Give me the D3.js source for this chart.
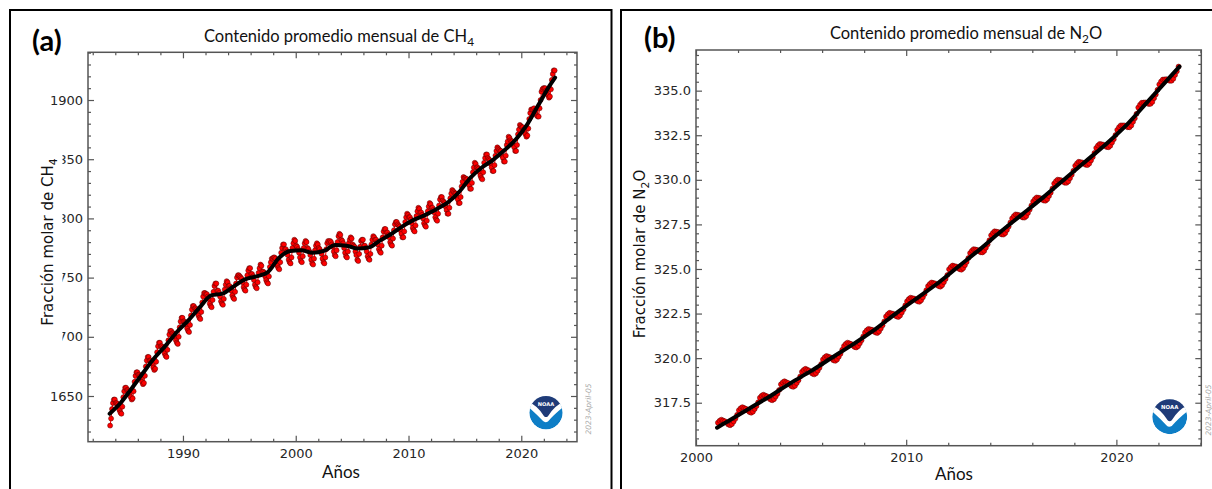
<!DOCTYPE html>
<html>
<head>
    <meta charset="utf-8">
    <style>
        body { margin: 0; background: #fff; }
        svg { display: block; }
        .axis .domain { display: none; }
        .axis .tick line { stroke: #555; stroke-width: 1.2px; }
        .axis .tick text { font-family: "DejaVu Sans", sans-serif; font-size: 13px; fill: #262626; }
    </style>
</head>
<body>
<svg width="1212" height="489"></svg>

<script src="https://cdn.jsdelivr.net/npm/d3@7"></script>
<script>
    // ---- data ----

    // CH4 global monthly mean (ppb), first value = July 1983
    const ch4Start = 1983.5
    const ch4Monthly = [
        1625, 1631, 1639, 1644, 1647, 1647,
        1644, 1644, 1643, 1641, 1638, 1636, 1635, 1641, 1649, 1654, 1657, 1657,
        1655, 1655, 1654, 1652, 1649, 1647, 1648, 1654, 1662, 1667, 1670, 1670,
        1668, 1668, 1667, 1665, 1662, 1660, 1661, 1667, 1675, 1680, 1683, 1683,
        1680, 1680, 1679, 1677, 1674, 1672, 1673, 1679, 1687, 1692, 1695, 1695,
        1692, 1692, 1691, 1689, 1686, 1684, 1683, 1689, 1697, 1702, 1705, 1705,
        1703, 1703, 1702, 1700, 1697, 1695, 1694, 1700, 1708, 1713, 1716, 1716,
        1713, 1713, 1712, 1710, 1707, 1705, 1704, 1710, 1718, 1723, 1726, 1726,
        1724, 1724, 1723, 1721, 1718, 1716, 1715, 1721, 1729, 1734, 1737, 1737,
        1736, 1736, 1734, 1732, 1728, 1726, 1725, 1731, 1738, 1743, 1745, 1745,
        1739, 1739, 1737, 1734, 1730, 1728, 1727, 1732, 1740, 1744, 1747, 1746,
        1743, 1743, 1741, 1739, 1735, 1733, 1732, 1738, 1745, 1750, 1752, 1752,
        1751, 1750, 1749, 1746, 1742, 1740, 1739, 1744, 1752, 1756, 1758, 1758,
        1753, 1753, 1751, 1748, 1744, 1742, 1741, 1746, 1754, 1758, 1761, 1760,
        1755, 1755, 1754, 1751, 1748, 1746, 1745, 1751, 1759, 1763, 1766, 1766,
        1767, 1767, 1766, 1763, 1760, 1758, 1757, 1763, 1771, 1775, 1778, 1778,
        1774, 1774, 1772, 1769, 1765, 1763, 1762, 1767, 1775, 1779, 1782, 1781,
        1777, 1776, 1774, 1771, 1767, 1764, 1763, 1768, 1775, 1779, 1781, 1780,
        1775, 1774, 1772, 1769, 1765, 1762, 1761, 1766, 1773, 1777, 1779, 1778,
        1775, 1774, 1772, 1770, 1766, 1763, 1762, 1767, 1774, 1779, 1781, 1780,
        1781, 1780, 1778, 1776, 1772, 1769, 1768, 1773, 1780, 1785, 1787, 1786,
        1782, 1781, 1779, 1775, 1771, 1768, 1767, 1772, 1779, 1782, 1784, 1783,
        1778, 1777, 1776, 1772, 1769, 1765, 1764, 1770, 1776, 1781, 1782, 1782,
        1777, 1777, 1775, 1772, 1768, 1766, 1765, 1770, 1778, 1782, 1785, 1784,
        1782, 1782, 1780, 1778, 1774, 1772, 1771, 1777, 1784, 1789, 1791, 1791,
        1788, 1788, 1786, 1784, 1780, 1778, 1777, 1783, 1790, 1795, 1797, 1797,
        1795, 1794, 1793, 1790, 1787, 1784, 1784, 1789, 1797, 1801, 1804, 1803,
        1801, 1801, 1799, 1796, 1792, 1790, 1789, 1794, 1802, 1806, 1809, 1808,
        1805, 1805, 1803, 1800, 1796, 1794, 1793, 1798, 1806, 1810, 1813, 1812,
        1809, 1809, 1807, 1805, 1801, 1799, 1798, 1804, 1811, 1816, 1818, 1818,
        1815, 1814, 1813, 1810, 1807, 1804, 1804, 1809, 1817, 1821, 1824, 1823,
        1822, 1821, 1821, 1818, 1816, 1813, 1813, 1818, 1827, 1831, 1835, 1834,
        1834, 1833, 1833, 1830, 1828, 1825, 1825, 1830, 1839, 1843, 1847, 1846,
        1843, 1843, 1842, 1839, 1836, 1834, 1833, 1839, 1847, 1851, 1854, 1854,
        1851, 1850, 1849, 1846, 1843, 1840, 1840, 1845, 1853, 1857, 1860, 1859,
        1858, 1857, 1857, 1853, 1851, 1848, 1848, 1853, 1862, 1865, 1869, 1868,
        1866, 1865, 1865, 1862, 1860, 1857, 1857, 1862, 1871, 1875, 1879, 1878,
        1877, 1877, 1875, 1874, 1871, 1869, 1870, 1876, 1884, 1889, 1892, 1892,
        1892, 1893, 1891, 1890, 1887, 1886, 1886, 1893, 1900, 1907, 1909, 1910,
        1910, 1910, 1908, 1907, 1904, 1902, 1903, 1909, 1917, 1922, 1925, 1925
    ]

    // CH4 deseasonalised trend (black line)
    const ch4TrendYears = [
        1983.5, 1984.5, 1985.5, 1986.5, 1987.5, 1988.5, 1989.5, 1990.5, 1991.5, 1992.5,
        1993.5, 1994.5, 1995.5, 1996.5, 1997.5, 1998.5, 1999.5, 2000.5, 2001.5, 2002.5,
        2003.5, 2004.5, 2005.5, 2006.5, 2007.5, 2008.5, 2009.5, 2010.5, 2011.5, 2012.5,
        2013.5, 2014.5, 2015.5, 2016.5, 2017.5, 2018.5, 2019.5, 2020.5, 2021.5, 2022.5, 2023.0
    ]
    const ch4TrendValues = [
        1635, 1644.5, 1657, 1670, 1682.5, 1693, 1704.5, 1714, 1725, 1735,
        1736.5, 1742.5, 1748.5, 1751, 1754.5, 1766.5, 1772.5, 1773, 1771, 1772.5,
        1777.5, 1777, 1774.5, 1775.5, 1781.5, 1787, 1793.5, 1799, 1803, 1808,
        1813.5, 1822.5, 1834.5, 1843, 1849.5, 1857.5, 1866.5, 1879, 1895.5, 1912, 1919
    ]

    // N2O global monthly mean (ppb), first value = January 2001
    const n2oStart = 2001
    const n2oMonthly = [
        316.38, 316.49, 316.55, 316.50, 316.46, 316.37, 316.28, 316.24, 316.30, 316.45, 316.61, 316.82,
        317.08, 317.19, 317.25, 317.20, 317.16, 317.07, 316.98, 316.94, 317.00, 317.15, 317.31, 317.52,
        317.78, 317.89, 317.95, 317.90, 317.86, 317.77, 317.68, 317.64, 317.70, 317.85, 318.01, 318.22,
        318.53, 318.64, 318.70, 318.65, 318.61, 318.52, 318.43, 318.39, 318.45, 318.60, 318.76, 318.97,
        319.23, 319.34, 319.40, 319.35, 319.31, 319.22, 319.13, 319.09, 319.15, 319.30, 319.46, 319.67,
        319.93, 320.05, 320.12, 320.08, 320.05, 319.97, 319.88, 319.85, 319.92, 320.08, 320.25, 320.47,
        320.68, 320.80, 320.87, 320.83, 320.80, 320.72, 320.63, 320.60, 320.67, 320.83, 321.00, 321.22,
        321.44, 321.56, 321.64, 321.61, 321.59, 321.51, 321.44, 321.41, 321.49, 321.66, 321.84, 322.06,
        322.34, 322.46, 322.54, 322.51, 322.49, 322.41, 322.34, 322.31, 322.39, 322.56, 322.74, 322.96,
        323.19, 323.31, 323.39, 323.36, 323.34, 323.26, 323.19, 323.16, 323.24, 323.41, 323.59, 323.81,
        324.04, 324.16, 324.24, 324.21, 324.19, 324.11, 324.04, 324.01, 324.09, 324.26, 324.44, 324.66,
        324.99, 325.11, 325.19, 325.16, 325.14, 325.06, 324.99, 324.96, 325.04, 325.21, 325.39, 325.61,
        325.89, 326.02, 326.11, 326.09, 326.07, 326.01, 325.94, 325.93, 326.01, 326.19, 326.38, 326.61,
        326.89, 327.02, 327.11, 327.09, 327.07, 327.01, 326.94, 326.93, 327.01, 327.19, 327.38, 327.61,
        327.84, 327.97, 328.06, 328.04, 328.02, 327.96, 327.89, 327.88, 327.96, 328.14, 328.33, 328.56,
        328.79, 328.92, 329.01, 328.99, 328.97, 328.91, 328.84, 328.83, 328.91, 329.09, 329.28, 329.51,
        329.79, 329.92, 330.01, 329.99, 329.97, 329.91, 329.84, 329.83, 329.91, 330.09, 330.28, 330.51,
        330.79, 330.92, 331.01, 330.99, 330.97, 330.91, 330.84, 330.83, 330.91, 331.09, 331.28, 331.51,
        331.79, 331.92, 332.01, 331.99, 331.97, 331.91, 331.84, 331.83, 331.91, 332.09, 332.28, 332.51,
        332.80, 332.95, 333.05, 333.05, 333.05, 333.00, 332.95, 332.95, 333.05, 333.25, 333.45, 333.70,
        334.05, 334.21, 334.32, 334.33, 334.34, 334.30, 334.25, 334.26, 334.37, 334.58, 334.79, 335.05,
        335.35, 335.51, 335.62, 335.63, 335.64, 335.60, 335.55, 335.56, 335.67, 335.88, 336.09, 336.35
    ]

    const n2oTrendYears = [
        2001.0, 2001.5, 2002.5, 2003.5, 2004.5, 2005.5, 2006.5, 2007.5, 2008.5, 2009.5, 2010.5, 2011.5,
        2012.5, 2013.5, 2014.5, 2015.5, 2016.5, 2017.5, 2018.5, 2019.5, 2020.5, 2021.5, 2022.5, 2023.0
    ]
    const n2oTrendValues = [
        316.1, 316.45, 317.15, 317.85, 318.6, 319.3, 320.05, 320.8, 321.6, 322.5, 323.35, 324.2,
        325.15, 326.1, 327.1, 328.05, 329.0, 330.0, 331.0, 332.0, 333.1, 334.4, 335.7, 336.35
    ]

    // tick labels
    const ch4XTicks = [1990, 2000, 2010, 2020]
    const ch4YTicks = [1650, 1700, 1750, 1800, 1850, 1900]
    const n2oXTicks = [2000, 2010, 2020]
    const n2oYTicks = [317.5, 320.0, 322.5, 325.0, 327.5, 330.0, 332.5, 335.0]

    // ---- drawing ----
    let svg = d3.select("svg")

    // text with an optional subscript piece, e.g. CH4 / N2O
    function richText(parent, parts, size, attrs) {
        let t = parent.append("text").style("font-size", size + "px")
        Object.entries(attrs).forEach(([k, v]) => t.attr(k, v))
        let down = false
        parts.forEach(p => {
            let s = t.append("tspan").text(p.text)
            if (p.sub) {
                s.attr("dy", size * 0.28).style("font-size", (size * 0.72) + "px")
                down = true
            } else if (down) {
                s.attr("dy", -size * 0.28)
                down = false
            }
        })
        return t
    }

    function drawLogo(parent, cx, cy, r) {
        let id = "logo" + Math.round(cx)
        let g = parent.append("g").attr("transform", `translate(${cx},${cy}) scale(${r / 17})`)
        g.append("clipPath").attr("id", id).append("circle").attr("r", 17)
        let c = g.append("g").attr("clip-path", `url(#${id})`)
        c.append("circle").attr("r", 17).style("fill", "#0e7ec6")
        c.append("path")
            .attr("d", "M-18,-18 H18 V-6 Q8,2 2,9 Q-1,10.5 -3,8.5 Q-9,2 -18,-6 Z")
            .style("fill", "#fff")
        c.append("path")
            .attr("d", "M-18,-18 H18 V-11 Q9,-8 2,3.5 Q0,5.5 -2,3.5 Q-9,-8 -18,-11 Z")
            .style("fill", "#1f3b78")
        g.append("text").attr("x", 0).attr("y", -7)
            .attr("text-anchor", "middle")
            .style("font-family", "DejaVu Sans").style("font-size", "5.2px").style("font-weight", "bold")
            .style("fill", "#fff")
            .text("NOAA")
    }

    function drawPanel(p) {
        let g = svg.append("g")

        // outer box of the panel
        g.append("rect")
            .attr("x", p.box[0]).attr("y", p.box[1]).attr("width", p.box[2]).attr("height", p.box[3])
            .style("fill", "none").style("stroke", "#000").style("stroke-width", 2)

        let x = d3.scaleLinear().domain(p.xDomain).range([p.left, p.right])
        let y = d3.scaleLinear().domain(p.yDomain).range([p.bottom, p.top])

        // major + minor ticks, all pointing in
        let major = 6, minor = 3
        g.append("g").attr("class", "axis").attr("transform", `translate(0,${p.bottom})`)
            .call(d3.axisBottom(x).tickValues(p.xTicks).tickSizeInner(-major).tickSizeOuter(0)
                .tickPadding(7).tickFormat(d3.format("d")))
        g.append("g").attr("class", "axis").attr("transform", `translate(0,${p.bottom})`)
            .call(d3.axisBottom(x).tickValues(p.xMinor).tickSizeInner(-minor).tickSizeOuter(0).tickFormat(""))
        g.append("g").attr("class", "axis").attr("transform", `translate(0,${p.top})`)
            .call(d3.axisTop(x).tickValues(p.xTicks).tickSizeInner(-major).tickSizeOuter(0).tickFormat(""))
        g.append("g").attr("class", "axis").attr("transform", `translate(0,${p.top})`)
            .call(d3.axisTop(x).tickValues(p.xMinor).tickSizeInner(-minor).tickSizeOuter(0).tickFormat(""))

        g.append("g").attr("class", "axis").attr("transform", `translate(${p.left},0)`)
            .call(d3.axisLeft(y).tickValues(p.yTicks).tickSizeInner(-major).tickSizeOuter(0)
                .tickPadding(5).tickFormat(p.yFormat))
        g.append("g").attr("class", "axis").attr("transform", `translate(${p.left},0)`)
            .call(d3.axisLeft(y).tickValues(p.yMinor).tickSizeInner(-minor).tickSizeOuter(0).tickFormat(""))
        g.append("g").attr("class", "axis").attr("transform", `translate(${p.right},0)`)
            .call(d3.axisRight(y).tickValues(p.yTicks).tickSizeInner(-major).tickSizeOuter(0).tickFormat(""))
        g.append("g").attr("class", "axis").attr("transform", `translate(${p.right},0)`)
            .call(d3.axisRight(y).tickValues(p.yMinor).tickSizeInner(-minor).tickSizeOuter(0).tickFormat(""))

        // data
        let clipId = "clip" + p.left
        g.append("clipPath").attr("id", clipId).append("rect")
            .attr("x", p.left).attr("y", p.top).attr("width", p.right - p.left).attr("height", p.bottom - p.top)
        let plot = g.append("g").attr("clip-path", `url(#${clipId})`)

        let monthly = p.monthly.map((v, i) => ({ t: p.start + (i + 0.5) / 12, v: v }))
        let trend = p.trendYears.map((t, i) => ({ t: t, v: p.trendValues[i] }))

        plot.append("path")
            .attr("d", d3.line().x(d => x(d.t)).y(d => y(d.v))(monthly))
            .style("fill", "none").style("stroke", "#f00").style("stroke-width", 1)

        plot.append("g").selectAll("circle")
            .data(monthly)
            .join("circle")
            .attr("cx", d => x(d.t))
            .attr("cy", d => y(d.v))
            .attr("r", p.dotR)
            .style("fill", "#ff0000")
            .style("stroke", "#500")
            .style("stroke-width", 0.5)

        plot.append("path")
            .attr("d", d3.line().curve(d3.curveMonotoneX).x(d => x(d.t)).y(d => y(d.v))(trend))
            .style("fill", "none").style("stroke", "#000").style("stroke-width", 4)
            .style("stroke-linecap", "round")

        // plot frame
        g.append("rect")
            .attr("x", p.left).attr("y", p.top).attr("width", p.right - p.left).attr("height", p.bottom - p.top)
            .style("fill", "none").style("stroke", "#555").style("stroke-width", 1.5)

        // y label with white backing (it hides part of the tick labels in the original)
        g.append("rect")
            .attr("x", p.yLabel[0] - 16).attr("y", p.yLabel[1] - 98)
            .attr("width", p.yLabelBackW).attr("height", 200)
            .style("fill", "#fff")
        richText(g, p.yLabelParts, 15, {
            transform: `translate(${p.yLabel[0]},${p.yLabel[1]}) rotate(-90)`,
            "text-anchor": "middle"
        }).style("font-family", "DejaVu Sans").style("fill", "#111")

        richText(g, p.titleParts, 16.5, {
            x: p.title[0], y: p.title[1], "text-anchor": "middle"
        }).style("font-family", "Lato").style("fill", "#111")

        g.append("text").attr("x", p.tag[0]).attr("y", p.tag[1])
            .style("font-family", "Lato").style("font-weight", "bold").style("font-size", "29px")
            .style("fill", "#000")
            .text(p.tagText)

        g.append("text").attr("x", p.xLabel[0]).attr("y", p.xLabel[1])
            .attr("text-anchor", "middle")
            .style("font-family", "Lato").style("font-size", "17px").style("fill", "#111")
            .text("Años")

        g.append("text")
            .attr("transform", `translate(${p.date[0]},${p.date[1]}) rotate(-90)`)
            .attr("text-anchor", "middle")
            .style("font-family", "DejaVu Sans").style("font-style", "italic").style("font-size", "7.5px")
            .style("fill", "#aaa")
            .text("2023-April-05")

        drawLogo(g, p.logo[0], p.logo[1], p.logo[2])
    }

    drawPanel({
        box: [10, 10, 601.5, 500],
        left: 88, right: 577, top: 52.3, bottom: 441.7,
        xDomain: [1981.58, 2024.94], yDomain: [1611.4, 1940.3],
        xTicks: ch4XTicks, yTicks: ch4YTicks,
        xMinor: d3.range(1982, 2025, 2).filter(v => v % 10 !== 0),
        yMinor: d3.range(1620, 1941, 10).filter(v => v % 50 !== 0),
        yFormat: d3.format("d"),
        start: ch4Start, monthly: ch4Monthly,
        trendYears: ch4TrendYears, trendValues: ch4TrendValues,
        dotR: 2.5,
        title: [339, 41.5],
        titleParts: [{ text: "Contenido promedio mensual de CH" }, { text: "4", sub: true }],
        yLabel: [53, 242], yLabelBackW: 25.5,
        yLabelParts: [{ text: "Fracción molar de CH" }, { text: "4", sub: true }],
        tag: [32, 51], tagText: "(a)",
        xLabel: [341, 478],
        date: [591, 409],
        logo: [546, 412.7, 16.7]
    })

    drawPanel({
        box: [621, 10, 620, 500],
        left: 696, right: 1201.3, top: 50, bottom: 445.7,
        xDomain: [2000, 2024.04], yDomain: [315.09, 337.28],
        xTicks: n2oXTicks, yTicks: n2oYTicks,
        xMinor: d3.range(2002, 2025, 2).filter(v => v % 10 !== 0),
        yMinor: d3.range(315.5, 337.3, 0.5).filter(v => Math.abs(v / 2.5 - Math.round(v / 2.5)) > 1e-6),
        yFormat: d3.format(".1f"),
        start: n2oStart, monthly: n2oMonthly,
        trendYears: n2oTrendYears, trendValues: n2oTrendValues,
        dotR: 2.5,
        title: [966, 38.5],
        titleParts: [{ text: "Contenido promedio mensual de N" }, { text: "2", sub: true }, { text: "O" }],
        yLabel: [645, 254], yLabelBackW: 22,
        yLabelParts: [{ text: "Fracción molar de N" }, { text: "2", sub: true }, { text: "O" }],
        tag: [644, 48], tagText: "(b)",
        xLabel: [954, 480],
        date: [1211, 410],
        logo: [1169.7, 416.7, 17.5]
    })
</script>
</body>
</html>
